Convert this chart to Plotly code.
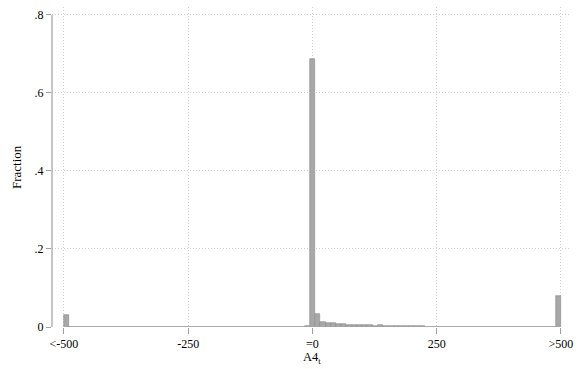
import plotly.graph_objects as go

# ---- data ----
bin_start = -500
bin_end = 500
n_bins = 95
fractions = (
    [0.031] + [0.001] * 45 +
    [0.003, 0.688, 0.033, 0.012, 0.010, 0.009, 0.008, 0.007, 0.006, 0.005,
     0.005, 0.004, 0.004, 0.003, 0.004, 0.003] +
    [0.002] * 7 + [0.001] * 25 + [0.080]
)
x_tick_vals = [-500, -250, 0, 250, 500]
x_tick_text = ["&lt;-500", "-250", "=0", "250", "&gt;500"]
y_tick_vals = [0, 0.2, 0.4, 0.6, 0.8]
y_tick_text = ["0", ".2", ".4", ".6", ".8"]
x_title = "A4<sub>t</sub>"
y_title = "Fraction"

width = (bin_end - bin_start) / n_bins
centers = [bin_start + (i + 0.5) * width for i in range(n_bins)]

font = "Liberation Serif"
fig = go.Figure()
fig.add_trace(go.Bar(
    x=centers, y=fractions, width=[width] * n_bins,
    marker=dict(color="#a8a8a8", line=dict(color="#8c8c8c", width=0.6)),
    hoverinfo="skip",
))
# y axis line spanning the tick range
fig.add_shape(type="line", xref="paper", yref="y", x0=0, x1=0,
              y0=y_tick_vals[0], y1=y_tick_vals[-1],
              line=dict(color="#a0a0a0", width=1.2))

fig.add_annotation(text=x_title, xref="x", yref="paper", x=0, y=-21 / 320,
                   xanchor="center", yanchor="top", showarrow=False,
                   font=dict(family=font, size=12.5, color="black"))
fig.add_annotation(text=y_title, xref="paper", yref="paper", x=-36 / 518, y=0.5,
                   xanchor="center", yanchor="middle", showarrow=False, textangle=-90,
                   font=dict(family=font, size=13, color="black"))

grid = dict(showgrid=True, gridcolor="#cfcfcf", griddash="1px,2px", gridwidth=1)
fig.update_layout(
    width=580, height=369,
    margin=dict(l=52, r=10, t=7, b=42),
    paper_bgcolor="white", plot_bgcolor="white",
    showlegend=False, bargap=0,
    font=dict(family=font, size=12, color="black"),
    xaxis=dict(
        range=[-524.1, 518.2],
        tickvals=x_tick_vals, ticktext=x_tick_text,
        ticks="outside", ticklen=6, tickcolor="#a0a0a0", tickwidth=1,
        zeroline=False, showline=False,
        tickfont=dict(family=font, size=12),
        **grid,
    ),
    yaxis=dict(
        range=[0, 0.82],
        tickvals=y_tick_vals, ticktext=y_tick_text,
        ticks="outside", ticklen=5, tickcolor="#a0a0a0", tickwidth=1,
        zeroline=False, showline=False,
        tickfont=dict(family=font, size=12),
        **grid,
    ),
)
fig.write_html(
    "out.html",
    config={"displayModeBar": False},
    post_script="document.body.style.margin='0';document.body.style.overflow='hidden';",
)
